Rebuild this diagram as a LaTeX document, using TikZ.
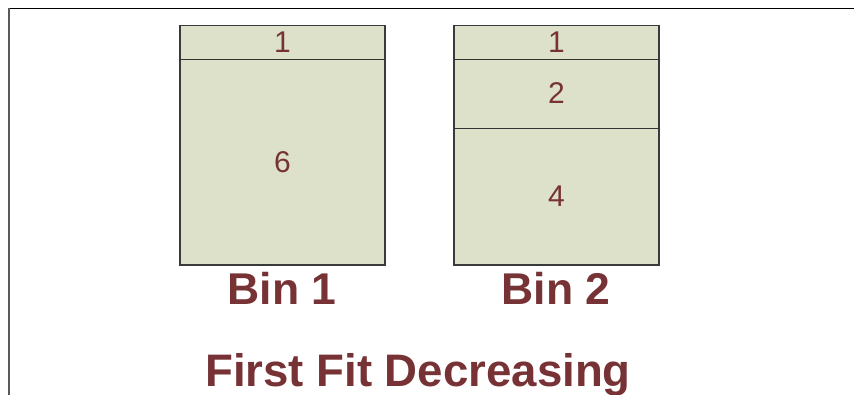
\documentclass[tikz,border=0pt]{standalone}
\usepackage{fontspec}
\setmainfont{Liberation Sans}
\definecolor{txt}{HTML}{773236}
\definecolor{binfill}{HTML}{DDE1CA}
\definecolor{edge}{HTML}{3A3A3A}
\begin{document}
\begin{tikzpicture}[x=1pt,y=-1pt,
  binbox/.style={draw=edge,fill=binfill,line width=1.2pt},
  divline/.style={draw=black!80,line width=1.4pt},
  num/.style={text=txt,font=\fontsize{30}{33}\selectfont,anchor=center,inner sep=0pt},
  binlabel/.style={text=txt,font=\fontsize{44.5}{50}\selectfont\bfseries,anchor=base,inner sep=0pt},
  titlelabel/.style={binlabel,font=\fontsize{45.6}{50}\selectfont\bfseries},
  frameline/.style={line width=1.3pt}]
\useasboundingbox (0,0) rectangle (854,395);
% frame
\coordinate (ftl) at (9,8.5);
\coordinate (ftr) at (854,8.5);
\coordinate (fbl) at (9,395);
\draw[frameline,black] (ftr) -- (ftl);
\draw[frameline,black!65] (ftl) -- (fbl);
% bin 1
\draw[binbox] (180,25.5) rectangle (385,265);
\draw[divline] (180,59.5) -- (385,59.5);
% bin 2
\draw[binbox] (454,25.5) rectangle (659,265);
\draw[divline] (454,59.5) -- (659,59.5);
\draw[divline] (454,128.5) -- (659,128.5);
% numbers
\node[num] (b1a) at (282.5,42.5) {1};
\node[num] (b1b) at (282.5,162) {6};
\node[num] (b2a) at (556.5,42.5) {1};
\node[num] (b2b) at (556.5,93) {2};
\node[num] (b2c) at (556.5,196) {4};
% labels
\node[binlabel] (l1) at (282,305) {Bin 1};
\node[binlabel] (l2) at (556,305) {Bin 2};
\node[titlelabel] (title) at (418,386) {First Fit Decreasing};
\end{tikzpicture}
\end{document}
